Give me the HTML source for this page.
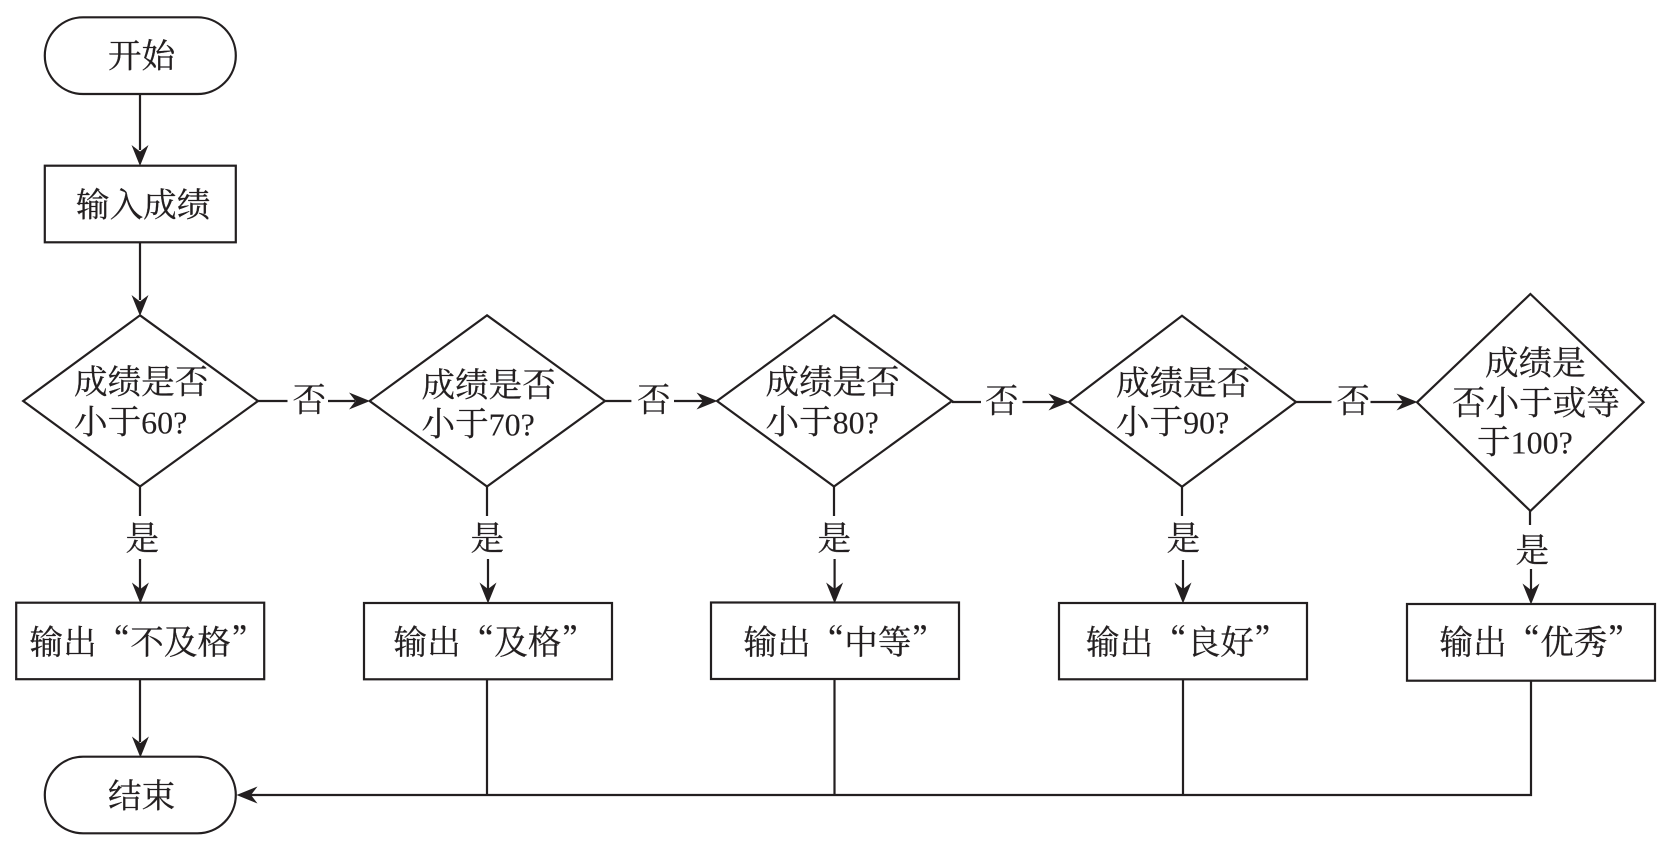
<!DOCTYPE html>
<html lang="zh">
<head>
<meta charset="utf-8">
<style>
html,body{margin:0;padding:0;background:#fff;width:1667px;height:845px;overflow:hidden}
svg{display:block}
text{font-size:33.6px;fill:#231f20;stroke:#231f20;stroke-width:.25px;font-family:"Liberation Serif","Noto Serif CJK SC",serif}
text.o{font-family:"Noto Serif CJK SC","Liberation Serif",serif}
tspan.n{font-size:32px;stroke-width:.1px}
.s{fill:#fff;stroke:#231f20;stroke-width:2.2}
.l{fill:none;stroke:#231f20;stroke-width:2.2}
.a{fill:#231f20;stroke:none}
</style>
</head>
<body>
<svg width="1667" height="845" viewBox="0 0 1667 845" xmlns="http://www.w3.org/2000/svg">
<rect width="1667" height="845" fill="#fff"/>

<!-- connectors -->
<path class="l" d="M140 94V150M140 242V300"/>
<path class="l" d="M258 401H287.5M328 401H355M605 401H631.4M674 401H703M952 402H981M1022.5 402H1055M1296 402H1331.5M1370.5 402H1403"/>
<path class="l" d="M140 486V516M140 559V590M487 486V516M488 559V590M834 486V516M834.6 559V590M1182 487V516M1183 560V590M1530 511V525M1531 569V591"/>
<path class="l" d="M140 679V742"/>
<path class="l" d="M250 795H1531V680M487 679V795M834.5 679V795M1183 679V795"/>

<!-- arrowheads -->
<path class="a" d="M140 166l-8.5-21 8.5 6.500 8.500-6.500z"/>
<path class="a" d="M140 316l-8.5-21 8.5 6.500 8.500-6.500z"/>
<path class="a" d="M140.4 603.500l-8.5-21 8.5 6.500 8.500-6.500z"/>
<path class="a" d="M488 603.500l-8.5-21 8.5 6.500 8.500-6.500z"/>
<path class="a" d="M834.6 603.500l-8.5-21 8.5 6.500 8.500-6.500z"/>
<path class="a" d="M1183 603.500l-8.5-21 8.5 6.500 8.500-6.500z"/>
<path class="a" d="M1531 604.500l-8.5-21 8.5 6.500 8.500-6.500z"/>
<path class="a" d="M140.4 757.500l-8.5-21 8.5 6.500 8.500-6.500z"/>
<path class="a" d="M370 401l-21-8.500 6.500 8.500-6.500 8.500z"/>
<path class="a" d="M717.500 401l-21-8.500 6.500 8.500-6.500 8.500z"/>
<path class="a" d="M1069.500 402l-21-8.500 6.500 8.500-6.500 8.500z"/>
<path class="a" d="M1417.500 402l-21-8.500 6.500 8.500-6.500 8.500z"/>
<path class="a" d="M236.500 795l21-8.500-6.500 8.500 6.500 8.500z"/>

<!-- shapes -->
<rect class="s" x="44.800" y="17.300" width="191" height="76.700" rx="38.300" ry="38.300"/>
<rect class="s" x="44.800" y="165.700" width="191" height="76.600"/>
<polygon class="s" points="140,315.300 258,401 140,486.500 23.200,401"/>
<polygon class="s" points="487,315.300 605,401 487,486.500 369.600,401"/>
<polygon class="s" points="834,315.300 952,401 834,486.500 717,401"/>
<polygon class="s" points="1182,315.700 1296,402 1182,486.700 1069,402"/>
<polygon class="s" points="1530.400,294 1643.600,402.300 1530.400,511 1417,402.300"/>
<rect class="s" x="16.200" y="602.700" width="248" height="76.500"/>
<rect class="s" x="364" y="603" width="248" height="76.300"/>
<rect class="s" x="711" y="602.500" width="248" height="76.500"/>
<rect class="s" x="1059" y="603" width="248" height="76.300"/>
<rect class="s" x="1407" y="604" width="248" height="76.700"/>
<rect class="s" x="44.800" y="756.700" width="191" height="76.600" rx="38.300" ry="38.300"/>

<!-- labels -->
<text x="108" y="67.500">开始</text>
<text x="76" y="216.500">输入成绩</text>
<text x="74" y="393.500">成绩是否</text>
<text x="74" y="433.500">小于<tspan class="n">60?</tspan></text>
<text x="421.500" y="396.500">成绩是否</text>
<text x="421.500" y="435.500">小于<tspan class="n">70?</tspan></text>
<text x="765.500" y="393.500">成绩是否</text>
<text x="765.500" y="433.500">小于<tspan class="n">80?</tspan></text>
<text x="1116" y="394.500">成绩是否</text>
<text x="1116" y="433.500">小于<tspan class="n">90?</tspan></text>
<text x="1485" y="374.500">成绩是</text>
<text x="1452" y="414.500">否小于或等</text>
<text x="1477" y="453.500">于<tspan class="n">100?</tspan></text>

<text x="292.500" y="411.500">否</text>
<text x="637" y="411.500">否</text>
<text x="985" y="412.500">否</text>
<text x="1336.500" y="412.500">否</text>

<text x="125.500" y="550">是</text>
<text x="470.500" y="550">是</text>
<text x="817.500" y="550">是</text>
<text x="1166.500" y="550">是</text>
<text x="1515.500" y="562">是</text>

<text class="o" x="29.500" y="654">输出“不及格”</text>
<text class="o" x="393.500" y="654">输出“及格”</text>
<text class="o" x="743.500" y="654">输出“中等”</text>
<text class="o" x="1086" y="654">输出“良好”</text>
<text class="o" x="1439.500" y="654">输出“优秀”</text>
<text x="108" y="807.500">结束</text>
</svg>
</body>
</html>
